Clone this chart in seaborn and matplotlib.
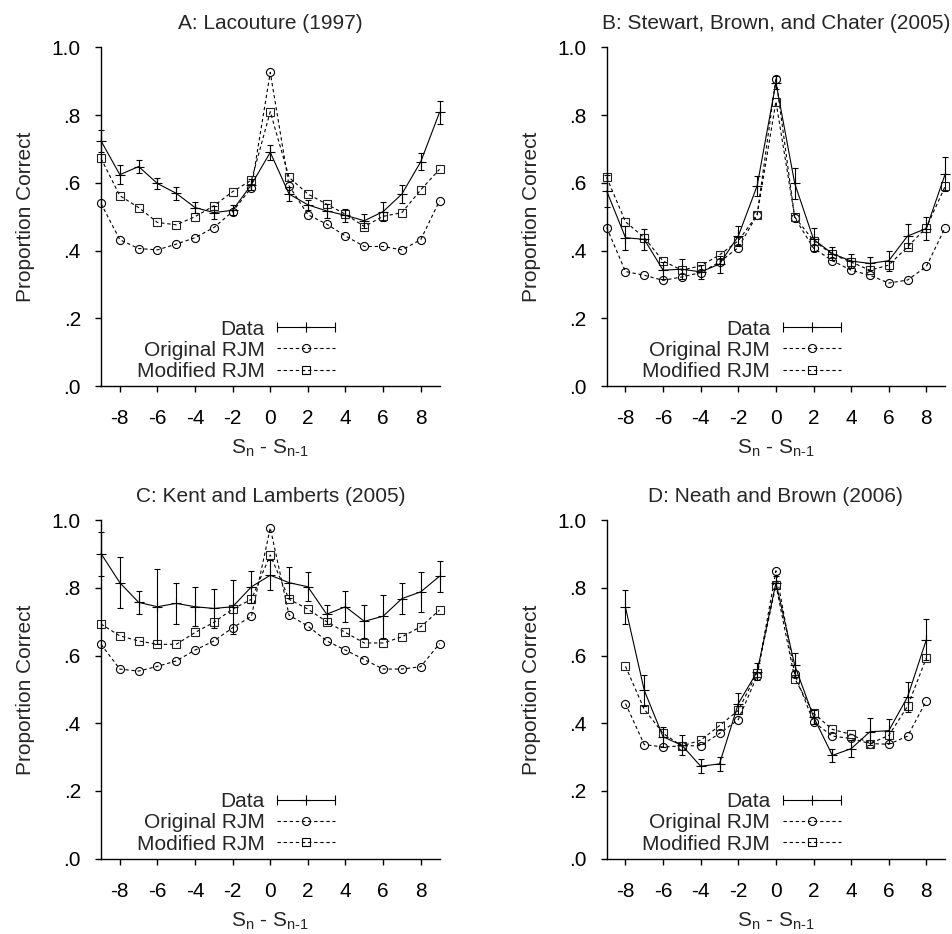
import matplotlib
matplotlib.use('Agg')
import matplotlib.pyplot as plt
import seaborn as sns
from matplotlib.lines import Line2D
from matplotlib.legend_handler import HandlerLine2D

# lag values
lags_full = list(range(-9, 10))
lags_short = list(range(-8, 9))

titles = ['A: Lacouture (1997)', 'B: Stewart, Brown, and Chater (2005)',
          'C: Kent and Lamberts (2005)', 'D: Neath and Brown (2006)']

# A: Lacouture (1997)
a_data = [0.724, 0.624, 0.648, 0.598, 0.569, 0.527, 0.512, 0.519, 0.595, 0.690,
          0.567, 0.535, 0.517, 0.504, 0.488, 0.515, 0.567, 0.662, 0.808]
a_err = [0.033, 0.028, 0.020, 0.015, 0.020, 0.015, 0.020, 0.015, 0.015, 0.022,
         0.020, 0.015, 0.020, 0.020, 0.020, 0.028, 0.028, 0.025, 0.035]
a_orig = [0.539, 0.432, 0.406, 0.402, 0.419, 0.438, 0.468, 0.515, 0.586, 0.926,
          0.591, 0.506, 0.478, 0.443, 0.412, 0.412, 0.402, 0.432, 0.547]
a_mod = [0.672, 0.562, 0.527, 0.483, 0.476, 0.500, 0.532, 0.574, 0.608, 0.810,
         0.616, 0.567, 0.537, 0.507, 0.471, 0.501, 0.512, 0.579, 0.640]

# B: Stewart, Brown, and Chater (2005)
b_data = [0.576, 0.438, 0.433, 0.342, 0.345, 0.337, 0.360, 0.443, 0.591, 0.896,
          0.598, 0.433, 0.391, 0.369, 0.362, 0.370, 0.443, 0.465, 0.626]
b_err = [0.048, 0.035, 0.030, 0.025, 0.030, 0.020, 0.025, 0.030, 0.030, 0.020,
         0.045, 0.035, 0.020, 0.020, 0.020, 0.030, 0.035, 0.035, 0.050]
b_orig = [0.468, 0.338, 0.327, 0.312, 0.322, 0.335, 0.366, 0.409, 0.505, 0.908,
          0.497, 0.407, 0.370, 0.342, 0.327, 0.304, 0.313, 0.353, 0.468]
b_mod = [0.616, 0.485, 0.438, 0.369, 0.342, 0.355, 0.387, 0.429, 0.505, 0.840,
         0.499, 0.429, 0.389, 0.366, 0.342, 0.357, 0.411, 0.468, 0.590]

# C: Kent and Lamberts (2005)
c_data = [0.901, 0.815, 0.757, 0.744, 0.754, 0.744, 0.739, 0.744, 0.803, 0.837,
          0.815, 0.803, 0.722, 0.744, 0.701, 0.716, 0.768, 0.788, 0.834]
c_err = [0.065, 0.075, 0.033, 0.110, 0.060, 0.057, 0.057, 0.080, 0.047, 0.045,
         0.045, 0.043, 0.028, 0.046, 0.048, 0.063, 0.045, 0.060, 0.046]
c_orig = [0.633, 0.560, 0.554, 0.568, 0.584, 0.616, 0.643, 0.682, 0.716, 0.977,
          0.719, 0.687, 0.643, 0.616, 0.588, 0.560, 0.560, 0.567, 0.635]
c_mod = [0.693, 0.658, 0.643, 0.633, 0.633, 0.668, 0.698, 0.737, 0.766, 0.897,
         0.766, 0.737, 0.700, 0.668, 0.637, 0.637, 0.655, 0.685, 0.734]

# D: Neath and Brown (2006)
d_data = [0.742, 0.497, 0.360, 0.335, 0.273, 0.280, 0.458, 0.552, 0.815,
          0.571, 0.419, 0.305, 0.325, 0.375, 0.378, 0.478, 0.647]
d_err = [0.050, 0.045, 0.030, 0.030, 0.020, 0.020, 0.030, 0.025, 0.020,
         0.035, 0.020, 0.020, 0.025, 0.040, 0.035, 0.045, 0.060]
d_orig = [0.458, 0.337, 0.330, 0.333, 0.334, 0.370, 0.411, 0.540, 0.850,
          0.545, 0.404, 0.362, 0.355, 0.340, 0.338, 0.362, 0.466]
d_mod = [0.568, 0.441, 0.370, 0.333, 0.350, 0.393, 0.438, 0.549, 0.808,
         0.532, 0.429, 0.382, 0.367, 0.340, 0.364, 0.450, 0.593]

panels = [
    (lags_full, a_data, a_err, a_orig, a_mod),
    (lags_full, b_data, b_err, b_orig, b_mod),
    (lags_full, c_data, c_err, c_orig, c_mod),
    (lags_short, d_data, d_err, d_orig, d_mod),
]

sns.set_style('ticks')
plt.rcParams['font.family'] = ['Liberation Sans', 'DejaVu Sans']
plt.rcParams['mathtext.fontset'] = 'custom'
plt.rcParams['mathtext.rm'] = 'Liberation Sans'
plt.rcParams['mathtext.it'] = 'Liberation Sans'
plt.rcParams['axes.unicode_minus'] = False

FS = 15
DASH = (0, (3, 2.5))
LW = 0.8

fig = plt.figure(figsize=(9.53, 9.34), dpi=100)
lefts = [0.106, 0.6366]
bottoms = [0.5867, 0.0806]
w, h = 0.3552, 0.3626

for i, (lags, data, err, orig, mod) in enumerate(panels):
    ax = fig.add_axes([lefts[i % 2], bottoms[i // 2], w, h])

    eb = ax.errorbar(lags, data, yerr=err, fmt='none', ecolor='black',
                     elinewidth=LW, capsize=2.5, capthick=LW, zorder=3)
    for art in eb.get_children():
        art.set_clip_on(False)
    sns.lineplot(x=lags, y=data, ax=ax, color='black', linewidth=LW,
                 marker='+', markersize=7, markeredgecolor='black',
                 mew=LW, zorder=4, clip_on=False)
    sns.lineplot(x=lags, y=orig, ax=ax, color='black', linewidth=LW,
                 linestyle=DASH, marker='o', markersize=5.8,
                 markerfacecolor='none', markeredgecolor='black', mew=LW,
                 clip_on=False)
    sns.lineplot(x=lags, y=mod, ax=ax, color='black', linewidth=LW,
                 linestyle=DASH, marker='s', markersize=5.8,
                 markerfacecolor='none', markeredgecolor='#222222', mew=LW,
                 clip_on=False)

    ax.set_xlim(-9, 9)
    ax.set_ylim(0, 1)
    ax.set_xticks(range(-8, 9, 2))
    ax.set_yticks([0, 0.2, 0.4, 0.6, 0.8, 1.0])
    ax.set_yticklabels(['.0', '.2', '.4', '.6', '.8', '1.0'])
    ax.tick_params(direction='out', length=4.5, width=1.0, labelsize=FS,
                   color='black', labelcolor='black')
    ax.tick_params(axis='y', pad=10)
    ax.tick_params(axis='x', pad=12)
    for side in ['top', 'right']:
        ax.spines[side].set_visible(False)
    for side in ['left', 'bottom']:
        ax.spines[side].set_linewidth(1.0)
        ax.spines[side].set_color('black')

    ax.set_title(titles[i], fontsize=FS, pad=13)
    ax.set_xlabel(r'$\mathregular{S_n}$ - $\mathregular{S_{n\text{-}1}}$',
                  fontsize=FS, labelpad=7)
    ax.set_ylabel('Proportion Correct', fontsize=FS, labelpad=12)

    # gnuplot style key
    h_data = Line2D([], [], color='black', linewidth=LW, marker='+',
                    markersize=7, mew=LW)
    h_caps = Line2D([], [], linestyle='none', marker='|', markersize=7,
                    color='black', mew=LW)
    h_orig = Line2D([], [], color='black', linewidth=LW, linestyle=DASH,
                    marker='o', markersize=5.8, markerfacecolor='none', mew=LW)
    h_mod = Line2D([], [], color='black', linewidth=LW, linestyle=DASH,
                   marker='s', markersize=5.8, markerfacecolor='none', mew=LW)
    ax.legend([(h_data, h_caps), h_orig, h_mod],
              ['Data', 'Original RJM', 'Modified RJM'],
              handler_map={h_caps: HandlerLine2D(numpoints=2, marker_pad=0)},
              loc='lower right', bbox_to_anchor=(0.705, 0.003),
              frameon=False, markerfirst=False, fontsize=FS,
              handlelength=2.8, handletextpad=0.6, labelspacing=0.1,
              borderaxespad=0, borderpad=0.2, numpoints=1)

fig.savefig('out.png', dpi=100)
